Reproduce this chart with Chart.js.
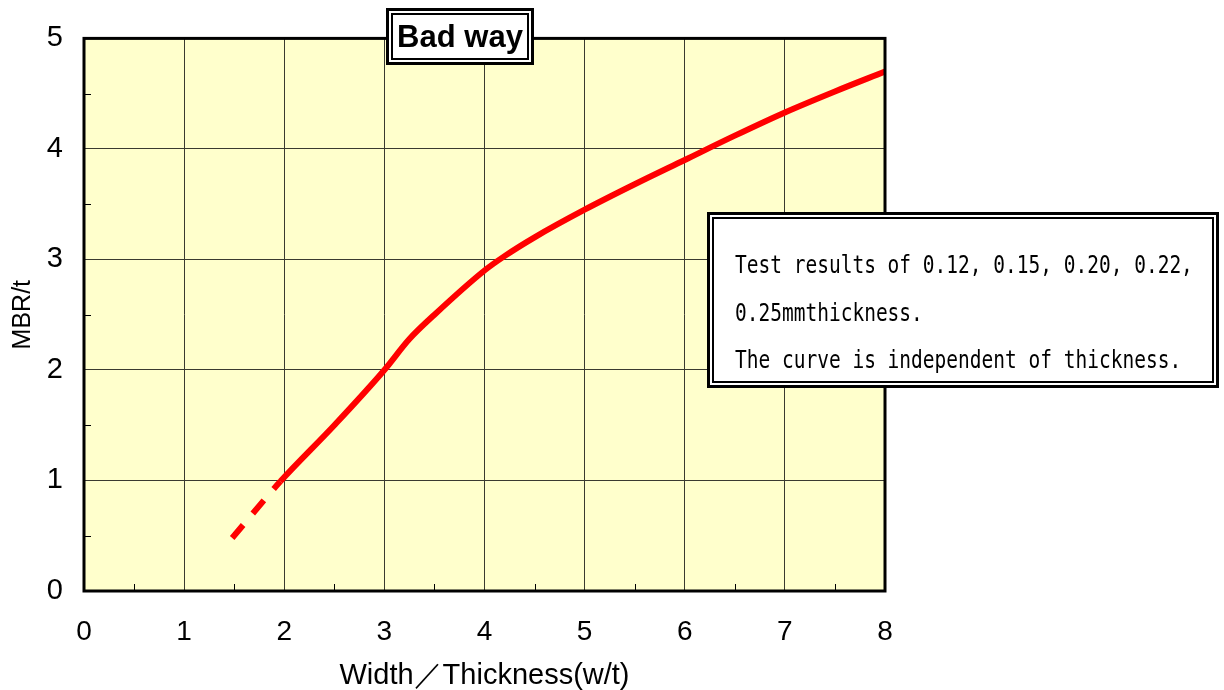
<!DOCTYPE html>
<html>
<head>
<meta charset="utf-8">
<script src="https://cdn.jsdelivr.net/npm/chart.js@4.4.1/dist/chart.umd.min.js"></script>
<style>
  html, body { margin: 0; padding: 0; background: #fff; }
  #wrap { position: relative; width: 1224px; height: 690px; }
  canvas { position: absolute; left: 0; top: 0; }
  .dbox {
    position: absolute; box-sizing: border-box; background: #fff;
    border: 2px solid #000;
    box-shadow: 0 0 0 2px #fff, 0 0 0 5px #000;
  }
  #titleBox {
    left: 391px; top: 13px; width: 138px; height: 47px;
    font: bold 31px "Liberation Sans", Arial, sans-serif;
    line-height: 43px; text-align: center;
  }
  #noteBox {
    left: 712px; top: 217px; width: 502px; height: 166px;
    padding: 22px 0 0 21px;
    font: 19.5px "DejaVu Sans Mono", monospace;
    line-height: 47.5px; white-space: pre;
  }
  #noteBox span { display: inline-block; transform: scaleY(1.25); transform-origin: 50% 50%; }
</style>
</head>
<body>
<div id="wrap">
  <canvas id="c" width="1224" height="690"></canvas>
  <div id="titleBox" class="dbox">Bad way</div>
  <div id="noteBox" class="dbox"><span>Test results of 0.12, 0.15, 0.20, 0.22,</span><br><span>0.25mmthickness.</span><br><span>The curve is independent of thickness.</span></div>
</div>
<script>
// 曲線の読み取り値（w/t と MBR/t）。最初の区間は破線
const widthRatio = [1.48, 1.96, 2.5, 3.0, 3.25, 3.5, 4.0, 4.2, 4.5, 5.0, 5.5, 6.0, 6.5, 7.0, 7.5, 8.0];
const mbrRatio   = [0.48, 0.99, 1.5, 2.0, 2.28, 2.5, 2.9, 3.03, 3.2, 3.45, 3.68, 3.9, 4.12, 4.33, 4.52, 4.7];

const xTicks = [0, 1, 2, 3, 4, 5, 6, 7, 8];
const yTicks = [0, 1, 2, 3, 4, 5];

const isWhole = v => Math.abs(v - Math.round(v)) < 1e-6;

// プロット領域の背景・枠・内向きの補助目盛り
const frame = {
  id: 'frame',
  beforeDraw(chart) {
    const { ctx, chartArea: a } = chart;
    ctx.save();
    ctx.fillStyle = '#FFFFCC';
    ctx.fillRect(a.left, a.top, a.right - a.left, a.bottom - a.top);
    ctx.restore();
  },
  afterDatasetsDraw(chart) {
    const { ctx, chartArea: a, scales } = chart;
    ctx.save();
    ctx.strokeStyle = '#000';
    ctx.lineWidth = 1;
    ctx.beginPath();
    scales.x.ticks.forEach(t => {
      if (isWhole(t.value)) return;
      const px = Math.round(scales.x.getPixelForValue(t.value)) + 0.5;
      ctx.moveTo(px, a.bottom); ctx.lineTo(px, a.bottom - 7);
    });
    scales.y.ticks.forEach(t => {
      if (isWhole(t.value)) return;
      const py = Math.round(scales.y.getPixelForValue(t.value)) + 0.5;
      ctx.moveTo(a.left, py); ctx.lineTo(a.left + 7, py);
    });
    ctx.stroke();
    ctx.lineWidth = 3;
    ctx.strokeRect(a.left, a.top, a.right - a.left, a.bottom - a.top);
    ctx.restore();
  }
};

const sans = '"Liberation Sans", Arial, sans-serif';

new Chart(document.getElementById('c'), {
  type: 'line',
  data: {
    datasets: [{
      data: widthRatio.map((x, i) => ({ x, y: mbrRatio[i] })),
      borderColor: '#FF0000',
      borderWidth: 6,
      borderCapStyle: 'butt',
      pointRadius: 0,
      cubicInterpolationMode: 'monotone',
      segment: {
        borderDash: c => c.p0DataIndex === 0 ? [17, 15] : []
      }
    }]
  },
  plugins: [frame],
  options: {
    responsive: false,
    animation: false,
    layout: { padding: { left: 8, top: 34, right: 339, bottom: 0 } },
    plugins: { legend: { display: false }, tooltip: { enabled: false } },
    scales: {
      x: {
        type: 'linear', min: xTicks[0], max: xTicks[xTicks.length - 1],
        afterFit: s => { s.height = 99; },
        grid: {
          color: c => isWhole(c.tick.value) ? '#3a3a30' : 'transparent',
          lineWidth: 1, drawTicks: false
        },
        border: { display: false },
        ticks: {
          stepSize: 0.5, autoSkip: false, padding: 24, color: '#000',
          font: { family: sans, size: 28 },
          callback: v => xTicks.includes(v) ? String(v) : ''
        },
        title: {
          display: true, text: 'Width／Thickness(w/t)', color: '#000',
          padding: { top: 0, bottom: 0 },
          font: { family: sans, size: 29, lineHeight: 1.0 }
        }
      },
      y: {
        type: 'linear', min: yTicks[0], max: yTicks[yTicks.length - 1],
        afterFit: s => { s.width = 76; },
        grid: {
          color: c => isWhole(c.tick.value) ? '#3a3a30' : 'transparent',
          lineWidth: 1, drawTicks: false
        },
        border: { display: false },
        ticks: {
          stepSize: 0.5, autoSkip: false, padding: 21, color: '#000',
          font: { family: sans, size: 29 },
          callback: v => yTicks.includes(v) ? String(v) : ''
        },
        title: {
          display: true, text: 'MBR/t', color: '#000',
          padding: { top: 0, bottom: 0 },
          font: { family: sans, size: 25 }
        }
      }
    }
  }
});
</script>
</body>
</html>
